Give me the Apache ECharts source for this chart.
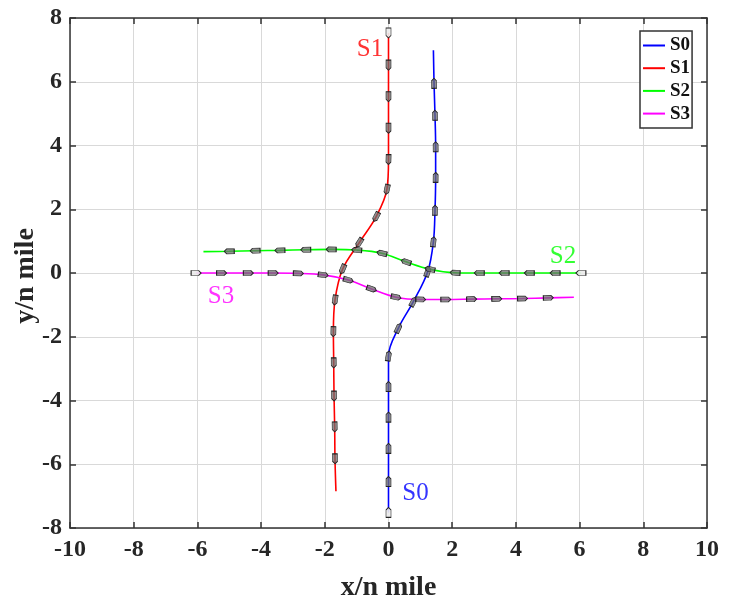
<!DOCTYPE html>
<html>
<head>
<meta charset="utf-8">
<script src="https://cdn.jsdelivr.net/npm/echarts@6/dist/echarts.min.js"></script>
<style>
  html, body { margin: 0; padding: 0; background: #fff; }
  #chart { width: 731px; height: 603px; }
</style>
</head>
<body>
<div id="chart"></div>
<script>
// ship tracks: marker positions in order of travel, last point = end of track (no marker)
var s0x = [0, 0, 0, 0, 0, 0, 0.31, 0.78, 1.23, 1.41, 1.46, 1.48, 1.48, 1.46, 1.43, 1.41];
var s0y = [-7.51, -6.54, -5.50, -4.52, -3.56, -2.60, -1.73, -0.90, 0.04, 0.98, 1.97, 3.00, 3.96, 4.95, 5.95, 6.99];

var s1x = [0, 0, 0, 0, 0, -0.05, -0.39, -0.92, -1.44, -1.68, -1.73, -1.72, -1.71, -1.69, -1.68, -1.65];
var s1y = [7.53, 6.52, 5.53, 4.54, 3.56, 2.62, 1.76, 0.95, 0.12, -0.85, -1.84, -2.82, -3.86, -4.83, -5.83, -6.85];

var s2x = [6.04, 5.23, 4.42, 3.63, 2.85, 2.09, 1.30, 0.55, -0.21, -1.00, -1.80, -2.60, -3.41, -4.19, -5.00, -5.81];
var s2y = [0, 0, 0, 0, 0, 0.01, 0.12, 0.35, 0.62, 0.72, 0.74, 0.73, 0.71, 0.70, 0.68, 0.67];

var s3x = [-6.04, -5.24, -4.40, -3.62, -2.83, -2.05, -1.26, -0.53, 0.24, 1.01, 1.80, 2.61, 3.40, 4.21, 5.02, 5.82];
var s3y = [0, 0, 0, 0, -0.01, -0.06, -0.22, -0.50, -0.76, -0.83, -0.83, -0.82, -0.81, -0.80, -0.78, -0.76];

var names = ['S0', 'S1', 'S2', 'S3'];
var colors = ['#0000ff', '#ff0000', '#00ff00', '#ff00ff'];
var tracks = [[s0x, s0y], [s1x, s1y], [s2x, s2y], [s3x, s3y]];

// text labels next to the tracks
var labelNames = ['S0', 'S1', 'S2', 'S3'];
var labelPos = [[0.85, -6.93], [-0.58, 7.02], [5.48, 0.53], [-5.26, -0.74]];

var xTicks = {min: -10, max: 10, interval: 2};
var yTicks = {min: -8, max: 8, interval: 2};

var serif = '"Liberation Serif", "Times New Roman", serif';
var ship = 'path://M2,0 L4,2.5 L4,10 L0,10 L0,2.5 Z';

function heading(xs, ys, i) {
    var a = Math.max(i - 1, 0), b = Math.min(i + 1, xs.length - 1);
    var dx = xs[b] - xs[a], dy = ys[b] - ys[a];
    return Math.atan2(-dx, dy) * 180 / Math.PI;
}

var series = [];
tracks.forEach(function (t, k) {
    var xs = t[0], ys = t[1];
    var line = [], marks = [];
    for (var i = 0; i < xs.length; i++) {
        line.push([xs[i], ys[i]]);
        if (i < xs.length - 1) {
            marks.push({
                value: [xs[i], ys[i]],
                symbolRotate: heading(xs, ys, i),
                itemStyle: i === 0 ? {color: 'rgba(235,235,235,0.9)'} : undefined
            });
        }
    }
    series.push({
        name: names[k],
        type: 'line',
        data: line,
        smooth: 0.35,
        symbol: 'none',
        color: colors[k],
        lineStyle: {width: 1.6, color: colors[k]},
        z: 2
    });
    series.push({
        name: names[k] + ' ship',
        type: 'scatter',
        data: marks,
        symbol: ship,
        symbolSize: [5, 10],
        symbolKeepAspect: false,
        itemStyle: {color: 'rgba(110,110,110,0.75)', borderColor: '#222', borderWidth: 0.8, opacity: 1},
        silent: true,
        z: 3
    });
});

series.push({
    name: 'labels',
    type: 'scatter',
    symbolSize: 0,
    silent: true,
    data: labelNames.map(function (n, k) {
        return {
            name: n,
            value: labelPos[k],
            label: {color: colors[k]}
        };
    }),
    label: {
        show: true,
        position: 'inside',
        formatter: '{b}',
        fontFamily: serif,
        fontSize: 25
    },
    z: 4
});

var axisText = {fontFamily: serif, fontWeight: 'bold', fontSize: 24, color: '#262626'};
var axisLine = {onZero: false, lineStyle: {color: '#333', width: 1.5}};
var tick = {inside: true, length: 6, lineStyle: {color: '#333', width: 1.5}};
var nameText = {fontFamily: serif, fontWeight: 'bold', fontSize: 28, color: '#262626'};

var chart = echarts.init(document.getElementById('chart'));
chart.setOption({
    animation: false,
    backgroundColor: '#fff',
    grid: {left: 70, right: 24, top: 18, bottom: 75, containLabel: false, outerBoundsMode: 'none'},
    legend: {
        data: names,
        orient: 'vertical',
        left: 640,
        top: 31,
        padding: [5, 2, 5, 3],
        itemGap: 3.7,
        itemWidth: 22,
        itemHeight: 2,
        icon: 'rect',
        borderColor: '#333',
        borderWidth: 1.5,
        backgroundColor: '#fff',
        textStyle: {fontFamily: serif, fontWeight: 'bold', fontSize: 19, color: '#111', lineHeight: 18}
    },
    // y axis title placed by hand, the axis name kept getting pushed left
    graphic: [{
        type: 'text',
        x: 26,
        y: 276,
        rotation: Math.PI / 2,
        silent: true,
        style: {
            text: 'y/n mile',
            fontFamily: serif,
            fontWeight: 'bold',
            fontSize: 28,
            fill: '#262626',
            align: 'center',
            verticalAlign: 'middle'
        }
    }],
    xAxis: [{
        type: 'value',
        min: xTicks.min, max: xTicks.max, interval: xTicks.interval,
        name: 'x/n mile',
        nameLocation: 'middle',
        nameGap: 46,
        nameMoveOverlap: false,
        nameTextStyle: nameText,
        axisLine: axisLine,
        axisTick: tick,
        axisLabel: Object.assign({margin: 10}, axisText),
        splitLine: {lineStyle: {color: '#d9d9d9', width: 1}}
    }, {
        type: 'value', position: 'top',
        min: xTicks.min, max: xTicks.max, interval: xTicks.interval,
        axisLine: axisLine,
        axisTick: tick,
        axisLabel: {show: false},
        splitLine: {show: false}
    }],
    yAxis: [{
        type: 'value',
        min: yTicks.min, max: yTicks.max, interval: yTicks.interval,
        axisLine: axisLine,
        axisTick: tick,
        axisLabel: Object.assign({margin: 8}, axisText),
        splitLine: {lineStyle: {color: '#d9d9d9', width: 1}}
    }, {
        type: 'value', position: 'right',
        min: yTicks.min, max: yTicks.max, interval: yTicks.interval,
        axisLine: axisLine,
        axisTick: tick,
        axisLabel: {show: false},
        splitLine: {show: false}
    }],
    series: series
});
</script>
</body>
</html>
